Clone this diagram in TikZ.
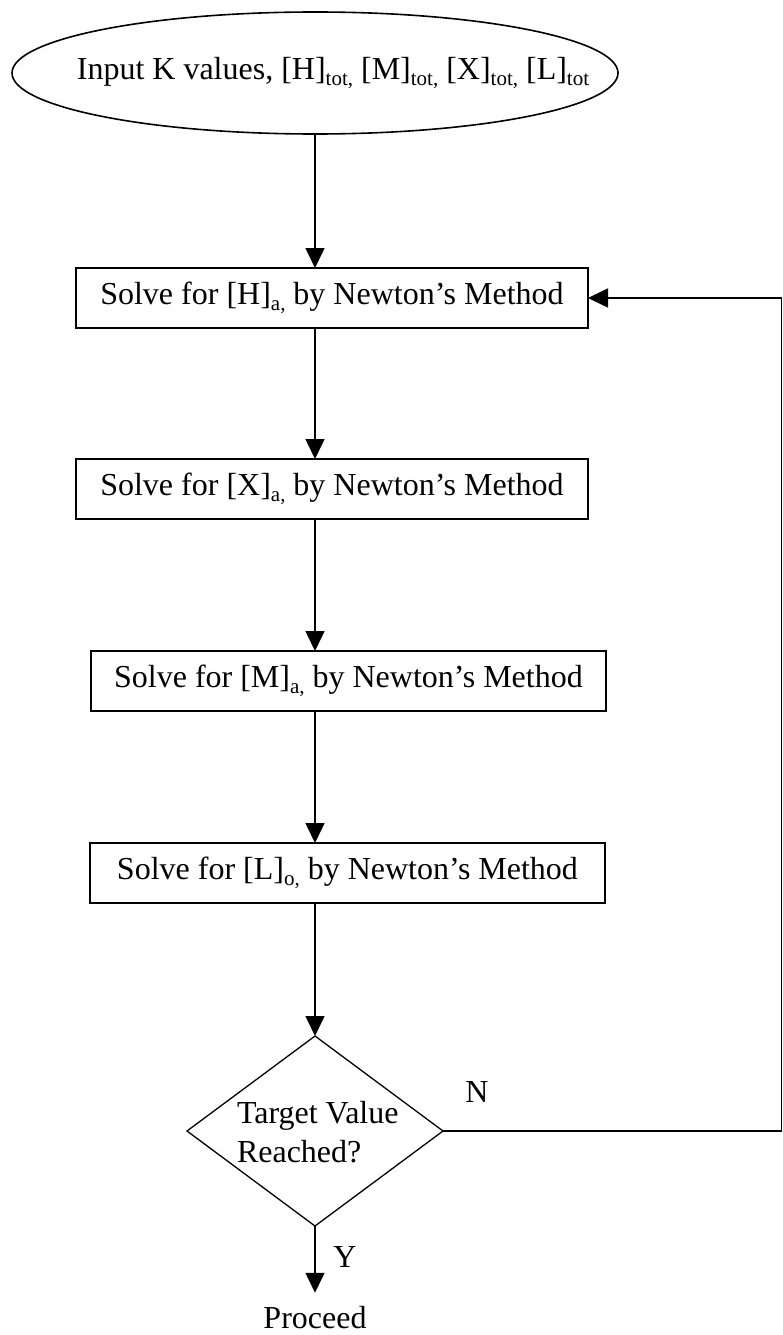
\documentclass[tikz,border=0pt]{standalone}
\usepackage{fontspec}
\setmainfont{Liberation Serif}
\usetikzlibrary{shapes.geometric,arrows.meta}
\newcommand{\sbx}[1]{\raisebox{-6pt}{\fontsize{21}{21}\selectfont #1}}
\begin{document}
\begin{tikzpicture}[x=1pt,y=-1pt,
  txt/.style={font=\fontsize{32}{39}\selectfont, inner sep=0pt, outer sep=0pt},
  procbox/.style={txt, draw, line width=2pt, minimum height=60pt},
  conn/.style={line width=1.6pt},
  arr/.style={conn, -{Triangle[length=20pt,width=19pt]}}]
\useasboundingbox (0,0) rectangle (783,1335);

\coordinate (ax) at (315,0);
\coordinate (rc) at (781.5,0);

\node[txt, ellipse, draw, line width=1.6pt, minimum width=606pt, minimum height=122pt] (in) at (315,73)
  {\makebox[0pt]{\hspace*{36pt}Input K values, [H]\sbx{tot,} [M]\sbx{tot,} [X]\sbx{tot,} [L]\sbx{tot}}};

\node[procbox, minimum width=512pt] (b1) at (332,298) {Solve for [H]\sbx{a,} by Newton’s Method};
\node[procbox, minimum width=512pt] (b2) at (332,489) {Solve for [X]\sbx{a,} by Newton’s Method};
\node[procbox, minimum width=515pt] (b3) at (348.5,681) {Solve for [M]\sbx{a,} by Newton’s Method};
\node[procbox, minimum width=515pt] (b4) at (347.5,873) {Solve for [L]\sbx{o,} by Newton’s Method};

\node[diamond, draw, line width=1.3pt, minimum width=256pt, minimum height=190pt, inner sep=0pt, outer sep=0pt] (dec) at (315,1131) {};
\node[txt, align=left, anchor=west] (dq) at (237,1132) {Target Value\\Reached?};

\node[txt] (nl) at (477,1092) {N};
\node[txt] (yl) at (345,1257) {Y};
\node[txt] (pr) at (315,1318) {Proceed};

\draw[arr] (in.south) -- (b1.north -| ax);
\draw[arr] (b1.south -| ax) -- (b2.north -| ax);
\draw[arr] (b2.south -| ax) -- (b3.north -| ax);
\draw[arr] (b3.south -| ax) -- (b4.north -| ax);
\draw[arr] (b4.south -| ax) -- (dec.north);
\draw[arr, shorten >=14pt] (dec.south) -- (pr.north);
\draw[arr] (dec.east) -- (dec.east -| rc) -- (b1.east -| rc) -- (b1.east);
\end{tikzpicture}
\end{document}
